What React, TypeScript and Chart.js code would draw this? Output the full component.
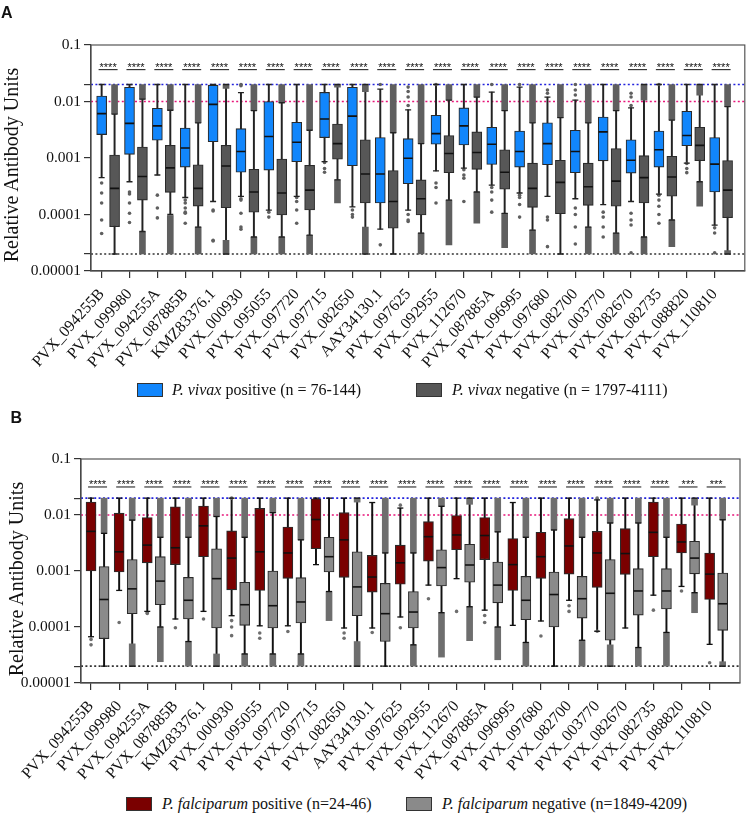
import React, { useEffect, useRef } from 'react';
import { Chart, registerables } from 'chart.js';

Chart.register(...registerables);

// ---------------- DATA ----------------
const categories = [
  'PVX_094255B', 'PVX_099980', 'PVX_094255A', 'PVX_087885B', 'KMZ83376.1', 'PVX_000930',
  'PVX_095055', 'PVX_097720', 'PVX_097715', 'PVX_082650', 'AAY34130.1', 'PVX_097625',
  'PVX_092955', 'PVX_112670', 'PVX_087885A', 'PVX_096995', 'PVX_097680', 'PVX_082700',
  'PVX_003770', 'PVX_082670', 'PVX_082735', 'PVX_088820', 'PVX_110810',
];

const yTickValues = [0.00001, 0.00002, 0.0001, 0.001, 0.01, 0.02, 0.1];
const yTickLabels = ['0.00001', '', '0.0001', '0.001', '0.01', '', '0.1'];
const referenceValues = [0.02, 0.01, 0.00002];
const yAxisTitle = 'Relative Antibody Units';

// [whisker low, q1, median, q3, whisker high]
const vivaxPositive = [
  [0.00045, 0.0026, 0.0061, 0.0125, 0.02],
  [0.00038, 0.00116, 0.0041, 0.0178, 0.02],
  [0.0005, 0.00206, 0.0037, 0.0076, 0.02],
  [0.0002, 0.00069, 0.0015, 0.0034, 0.02],
  [0.00017, 0.00194, 0.0089, 0.0195, 0.02],
  [0.00021, 0.00056, 0.0013, 0.0033, 0.0143],
  [0.00012, 0.00061, 0.0024, 0.01, 0.02],
  [0.00021, 0.00086, 0.0019, 0.0043, 0.02],
  [0.00086, 0.0023, 0.0049, 0.0145, 0.02],
  [0.000137, 0.00073, 0.0055, 0.0178, 0.02],
  [0.000055, 0.00016, 0.00052, 0.0023, 0.0165],
  [0.00012, 0.00035, 0.00099, 0.0022, 0.0071],
  [0.00059, 0.00175, 0.0027, 0.0057, 0.02],
  [0.00066, 0.0017, 0.0037, 0.0077, 0.02],
  [0.00033, 0.00077, 0.00175, 0.0035, 0.0147],
  [0.00024, 0.00069, 0.0013, 0.003, 0.018],
  [0.00021, 0.00076, 0.0018, 0.0042, 0.012],
  [0.00019, 0.00055, 0.0013, 0.0031, 0.0106],
  [0.00015, 0.00089, 0.0029, 0.0053, 0.02],
  [0.00017, 0.00054, 0.00091, 0.0021, 0.0077],
  [0.00023, 0.00069, 0.0014, 0.003, 0.02],
  [0.00081, 0.00165, 0.0025, 0.0067, 0.02],
  [0.000065, 0.00025, 0.00078, 0.0023, 0.02],
];

const vivaxNegative = [
  [0.00002, 0.000061, 0.00029, 0.00113, 0.006],
  [0.00005, 0.00018, 0.00047, 0.00156, 0.011],
  [0.0001, 0.000247, 0.00067, 0.00167, 0.007],
  [0.00006, 0.000141, 0.00029, 0.00076, 0.0042],
  [0.00002, 0.000132, 0.00072, 0.00167, 0.02],
  [0.00004, 0.00011, 0.00025, 0.00063, 0.0069],
  [0.00004, 0.000098, 0.00024, 0.00096, 0.0095],
  [0.000043, 0.00012, 0.00027, 0.00074, 0.0031],
  [0.00041, 0.00095, 0.0018, 0.004, 0.02],
  [0.00002, 0.00016, 0.00052, 0.0021, 0.02],
  [0.00002, 0.000057, 0.00017, 0.0006, 0.0028],
  [0.000047, 0.000098, 0.00019, 0.00041, 0.0018],
  [0.00018, 0.00055, 0.0012, 0.0025, 0.0106],
  [0.00025, 0.00063, 0.00125, 0.0029, 0.012],
  [0.000105, 0.00028, 0.00056, 0.0014, 0.0069],
  [0.000053, 0.000134, 0.00029, 0.00081, 0.0042],
  [0.00002, 0.000103, 0.00037, 0.00091, 0.0052],
  [0.00006, 0.000145, 0.00031, 0.00081, 0.0042],
  [0.000047, 0.00014, 0.00039, 0.00147, 0.0069],
  [0.00004, 0.00016, 0.00045, 0.0011, 0.02],
  [0.00008, 0.00021, 0.00046, 0.00107, 0.0047],
  [0.00038, 0.0009, 0.00167, 0.0035, 0.02],
  [0.00002, 0.000088, 0.00027, 0.0009, 0.0081],
];

// dense outlier ranges of the negative groups [low, high]
const vivaxNegHighCluster = [
  [0.006, 0.02], [0.011, 0.02], [0.007, 0.02], [0.0042, 0.02], [0.017, 0.02], [0.0069, 0.02],
  [0.0095, 0.02], [0.0031, 0.02], [0.018, 0.02], [0.015, 0.02], [0.0028, 0.02], [0.0018, 0.02],
  [0.0106, 0.02], [0.012, 0.02], [0.0069, 0.02], [0.0042, 0.02], [0.0052, 0.02], [0.0042, 0.02],
  [0.0069, 0.02], [0.0106, 0.02], [0.0047, 0.02], [0.013, 0.02], [0.0081, 0.02],
];
const vivaxNegLowCluster = [
  null, [0.00002, 0.00005], [0.00002, 0.000096], [0.00002, 0.00006], [0.00002, 0.000035],
  [0.00002, 0.00004], [0.00002, 0.00004], [0.00002, 0.000043], [0.00016, 0.00041],
  [0.00002, 0.00006], null, [0.00002, 0.000047], [0.000029, 0.00018], [0.00007, 0.00025],
  [0.000026, 0.000105], [0.00002, 0.000053], null, [0.00002, 0.00006], [0.00002, 0.000047],
  [0.00002, 0.00004], [0.000027, 0.00008], [0.00014, 0.00038], [0.00002, 0.000023],
];
const vivaxPosOutliers = [
  [0.00036, 0.00024, 0.00016, 0.00008, 0.000046],
  [0.00025, 0.00023, 0.00016, 0.000105, 0.000072],
  [0.00022, 0.00013, 0.000087],
  [0.00018, 0.00016, 0.00013, 0.00011, 0.000105, 0.00007],
  [0.00012, 0.000115, 0.000035, 0.000034],
  [0.02, 0.019, 0.00019, 0.00018, 0.000105, 0.00006, 0.000055],
  [0.00011, 0.00009],
  [0.0002, 0.00017, 0.00012, 0.00007],
  [0.00083, 0.00065, 0.00056],
  [0.00012, 0.0001, 0.00009],
  [0.02, 0.000029],
  [0.018, 0.015, 0.012, 0.0085, 0.0001, 0.00008, 0.000075],
  [0.02, 0.00036, 0.0003, 0.00016],
  [0.00062, 0.0005, 0.00044, 0.00017],
  [0.02, 0.0003, 0.00025, 0.00018, 0.00011],
  [0.02, 0.00022, 0.0002, 0.00015, 0.00009],
  [0.016, 0.014, 0.00009, 0.00008, 0.000027],
  [0.02, 0.016, 0.013, 0.00013, 0.0001, 0.00006, 0.00003],
  [0.00011, 0.00009, 0.00006, 0.00004],
  [0.014, 0.012, 0.0085, 0.000105, 0.00008, 0.000065, 0.000021],
  [0.02, 0.00022, 0.00018, 0.00014, 0.0001, 0.00007],
  [0.0008, 0.00065, 0.00055],
  [0.000058, 0.000047, 0.000021],
];
const vivaxSignificance = categories.map(() => '****');

const falciparumPositive = [
  [0.000067, 0.001, 0.0051, 0.017, 0.02],
  [0.00045, 0.00096, 0.0022, 0.0108, 0.02],
  [0.00019, 0.0014, 0.0029, 0.009, 0.02],
  [0.000139, 0.0013, 0.0026, 0.014, 0.02],
  [0.00019, 0.0018, 0.0064, 0.0145, 0.02],
  [0.000159, 0.00046, 0.0017, 0.0052, 0.02],
  [0.000105, 0.00045, 0.0022, 0.0131, 0.02],
  [0.000105, 0.00074, 0.0021, 0.0061, 0.02],
  [0.0013, 0.0025, 0.0083, 0.0195, 0.02],
  [0.000096, 0.00077, 0.0036, 0.011, 0.02],
  [0.000096, 0.00042, 0.00078, 0.0019, 0.0167],
  [0.000151, 0.00058, 0.0014, 0.0029, 0.0133],
  [0.00056, 0.0015, 0.0041, 0.0076, 0.02],
  [0.00073, 0.0024, 0.0044, 0.0098, 0.02],
  [0.0002, 0.0016, 0.0043, 0.009, 0.02],
  [0.000107, 0.00045, 0.0013, 0.0038, 0.0167],
  [0.000128, 0.00074, 0.0018, 0.0049, 0.02],
  [0.0003, 0.00088, 0.0028, 0.0086, 0.02],
  [0.000084, 0.00051, 0.0021, 0.0051, 0.0186],
  [0.000096, 0.00087, 0.00205, 0.0057, 0.02],
  [0.00037, 0.0018, 0.0049, 0.017, 0.02],
  [0.00053, 0.0021, 0.0033, 0.0069, 0.02],
  [0.000049, 0.00031, 0.00088, 0.0021, 0.02],
];

const falciparumNegative = [
  [0.00002, 0.000062, 0.00031, 0.0012, 0.0047],
  [0.00002, 0.000173, 0.00048, 0.0016, 0.0081],
  [0.0001, 0.00025, 0.00066, 0.0018, 0.004],
  [0.000055, 0.000139, 0.0003, 0.00077, 0.004],
  [0.00002, 0.000096, 0.00073, 0.0025, 0.0094],
  [0.000033, 0.000107, 0.00025, 0.00063, 0.004],
  [0.000033, 0.000096, 0.00024, 0.001, 0.011],
  [0.000033, 0.000118, 0.00028, 0.00076, 0.0036],
  [0.00043, 0.00096, 0.0018, 0.004, 0.02],
  [0.00002, 0.000159, 0.00052, 0.0022, 0.02],
  [0.00002, 0.000055, 0.000173, 0.0006, 0.0021],
  [0.000048, 0.000096, 0.000185, 0.00043, 0.0021],
  [0.00018, 0.00054, 0.00115, 0.0024, 0.0143],
  [0.00023, 0.00063, 0.00128, 0.003, 0.02],
  [0.0001, 0.00027, 0.00056, 0.00145, 0.005],
  [0.000053, 0.000135, 0.0003, 0.0008, 0.004],
  [0.00002, 0.0001, 0.00038, 0.00096, 0.0054],
  [0.000058, 0.000144, 0.00032, 0.0008, 0.004],
  [0.00002, 0.000058, 0.0004, 0.0016, 0.0072],
  [0.000043, 0.000163, 0.00044, 0.0011, 0.0072],
  [0.00008, 0.00021, 0.00044, 0.0011, 0.004],
  [0.00041, 0.00089, 0.0017, 0.0034, 0.02],
  [0.00002, 0.000087, 0.00026, 0.00092, 0.0082],
];

const falciparumNegHighCluster = [
  [0.0047, 0.02], [0.0081, 0.02], [0.004, 0.02], [0.004, 0.02], [0.0094, 0.02], [0.004, 0.02],
  [0.011, 0.02], [0.0036, 0.02], null, [0.017, 0.02], [0.0021, 0.02], [0.0021, 0.02],
  [0.0143, 0.02], [0.0155, 0.02], [0.005, 0.02], [0.004, 0.02], [0.0054, 0.02], [0.004, 0.02],
  [0.0072, 0.02], [0.0072, 0.02], [0.004, 0.02], [0.015, 0.02], [0.0082, 0.02],
];
const falciparumNegLowCluster = [
  null, [0.00002, 0.00005], [0.000024, 0.0001], [0.00002, 0.000055], [0.00002, 0.000033],
  [0.00002, 0.000033], [0.00002, 0.000033], [0.00002, 0.000033], [0.00013, 0.00043],
  [0.00002, 0.000055], null, [0.00002, 0.000048], [0.000029, 0.00018], [0.000057, 0.00023],
  [0.000026, 0.0001], [0.00002, 0.000053], null, [0.00002, 0.000058], [0.00002, 0.000048],
  [0.00002, 0.000043], [0.00002, 0.00008], [0.00018, 0.00041], [0.00002, 0.000024],
];
const falciparumPosOutliers = [
  [0.00006, 0.000048], [0.00012], [0.00018, 0.000175], [0.000097], [0.000139],
  [0.02, 0.00013, 0.0001, 0.00007], [0.000078, 0.000063], [0.000083], [], [0.000078, 0.000063],
  [0.00008], [0.015, 0.000097], [0.00032], [0.00019], [0.00016, 0.00012], [], [0.000069],
  [0.00024, 0.00019], [0.02, 0.000084], [], [0.0002], [0.00044], [0.000023],
];
const falciparumSignificance = categories.map((_, i) => (i >= 21 ? '***' : '****'));

const legendA = [
  { italic: 'P. vivax', rest: ' positive (n = 76-144)' },
  { italic: 'P. vivax', rest: ' negative (n = 1797-4111)' },
];
const legendB = [
  { italic: 'P. falciparum', rest: ' positive (n=24-46)' },
  { italic: 'P. falciparum', rest: ' negative (n=1849-4209)' },
];

// ---------------- STYLE / LAYOUT ----------------
const SERIF = '"Liberation Serif", "Times New Roman", serif';

const specA = {
  pos: vivaxPositive, neg: vivaxNegative, negHigh: vivaxNegHighCluster, negLow: vivaxNegLowCluster,
  posOut: vivaxPosOutliers, sig: vivaxSignificance,
  posColor: '#1186fc', negColor: '#575757', outlierColor: '#5f5f5f', whiskerColor: '#222',
  xMin: -0.382, xMax: 23.082, negShift: 0.464, yAxisWidth: 91, xAxisHeight: 109,
  padTop: 45, padRight: 1, sigLevel: 0.0347,
};
const specB = {
  pos: falciparumPositive, neg: falciparumNegative, negHigh: falciparumNegHighCluster, negLow: falciparumNegLowCluster,
  posOut: falciparumPosOutliers, sig: falciparumSignificance,
  posColor: '#7a0000', negColor: '#8a8a8a', outlierColor: '#6e6e6e', whiskerColor: '#111',
  xMin: -0.357, xMax: 23.08, negShift: 0.464, yAxisWidth: 81, xAxisHeight: 107,
  padTop: 59, padRight: 11, sigLevel: 0.030,
};
const refColors = ['#2222dd', '#e8157a', '#333333'];

const framePlugin = {
  id: 'frame',
  afterDraw(chart: any) {
    const { ctx, chartArea: a } = chart;
    ctx.save();
    ctx.strokeStyle = '#555';
    ctx.lineWidth = 1.2;
    ctx.strokeRect(a.left, a.top, a.right - a.left, a.bottom - a.top);
    ctx.restore();
  },
};

const sigPlugin = {
  id: 'sig',
  afterDatasetsDraw(chart: any, _args: any, opts: any) {
    const { ctx } = chart;
    const xs = chart.scales.x;
    const ys = chart.scales.y;
    const base = ys.getPixelForValue(opts.level);
    ctx.save();
    ctx.fillStyle = '#111';
    ctx.strokeStyle = '#111';
    ctx.lineWidth = 1;
    ctx.font = '11px "Liberation Sans", Arial, sans-serif';
    ctx.textAlign = 'center';
    ctx.textBaseline = 'alphabetic';
    (opts.labels as string[]).forEach((s, i) => {
      const cx = (xs.getPixelForValue(i) + xs.getPixelForValue(i + opts.shift)) / 2;
      ctx.fillText(s, cx, base);
      ctx.beginPath();
      ctx.moveTo(cx - 9.5, base - 1.3);
      ctx.lineTo(cx + 9.5, base - 1.3);
      ctx.stroke();
    });
    ctx.restore();
  },
};

function buildConfig(p: any) {
  const posX = (i: number) => i;
  const negX = (i: number) => i + p.negShift;
  const datasets: any[] = [];

  referenceValues.forEach((v, k) => {
    datasets.push({
      type: 'line',
      data: [{ x: p.xMin, y: v }, { x: p.xMax, y: v }],
      borderColor: refColors[k], borderWidth: 1.7, borderDash: [2, 2.4],
      pointRadius: 0, order: 30,
    });
  });

  const whisker = (arr: number[][], xf: (i: number) => number) => ({
    type: 'bar',
    data: arr.map((s, i) => ({ x: xf(i), y: [s[0], s[4]] })),
    backgroundColor: p.whiskerColor, barThickness: 1.3, grouped: false, borderWidth: 0, order: 25,
  });
  datasets.push(whisker(p.pos, posX), whisker(p.neg, negX));

  const clusters = (arr: (number[] | null)[]) =>
    arr.map((c, i) => (c ? { x: negX(i), y: c } : null)).filter(Boolean);
  datasets.push({
    type: 'bar',
    data: [...clusters(p.negHigh), ...clusters(p.negLow)],
    backgroundColor: p.outlierColor, barThickness: 6, grouped: false, borderWidth: 0, order: 24,
  });

  datasets.push({
    type: 'scatter',
    data: (p.posOut as number[][]).flatMap((vals, i) => vals.map((v) => ({ x: posX(i), y: v }))),
    pointRadius: 1.8, pointBackgroundColor: p.outlierColor, pointBorderWidth: 0, order: 23,
  });

  const box = (arr: number[][], xf: (i: number) => number, color: string) => ({
    type: 'bar',
    data: arr.map((s, i) => ({ x: xf(i), y: [s[1], s[3]] })),
    backgroundColor: color, borderColor: '#2a2a2a', borderWidth: 1.1, borderSkipped: false,
    barThickness: 10, grouped: false, order: 10,
  });
  datasets.push(box(p.pos, posX, p.posColor), box(p.neg, negX, p.negColor));

  const caps = (arr: number[][], xf: (i: number) => number) =>
    arr.flatMap((s, i) => [{ x: xf(i), y: s[0] }, { x: xf(i), y: s[4] }]);
  datasets.push({
    type: 'scatter',
    data: [...caps(p.pos, posX), ...caps(p.neg, negX)],
    pointStyle: 'line', pointRadius: 3, pointBorderColor: p.whiskerColor, pointBorderWidth: 1.3, order: 5,
  });

  const medians = (arr: number[][], xf: (i: number) => number) => arr.map((s, i) => ({ x: xf(i), y: s[2] }));
  datasets.push({
    type: 'scatter',
    data: [...medians(p.pos, posX), ...medians(p.neg, negX)],
    pointStyle: 'line', pointRadius: 4.6, pointBorderColor: '#111', pointBorderWidth: 1.6, order: 1,
  });

  const tickFont = { family: SERIF, size: 15.5 };

  return {
    type: 'bar',
    data: { datasets },
    plugins: [framePlugin, sigPlugin],
    options: {
      responsive: false,
      maintainAspectRatio: false,
      animation: false,
      events: [],
      layout: { padding: { top: p.padTop, right: p.padRight, left: 0, bottom: 0 } },
      plugins: {
        legend: { display: false },
        tooltip: { enabled: false },
        sig: { labels: p.sig, level: p.sigLevel, shift: p.negShift },
      },
      scales: {
        x: {
          type: 'linear', min: p.xMin, max: p.xMax, offset: false,
          afterBuildTicks: (s: any) => { s.ticks = categories.map((_, i) => ({ value: i })); },
          afterFit: (s: any) => { s.height = p.xAxisHeight; s.paddingLeft = 0; s.paddingRight = 0; },
          ticks: {
            autoSkip: false, minRotation: 48, maxRotation: 48, padding: 7, color: '#111',
            font: { family: SERIF, size: 16 },
            callback: (v: any) => categories[Math.round(v)] ?? '',
          },
          grid: { drawOnChartArea: false, drawTicks: true, tickLength: 7, offset: false, color: '#333', lineWidth: 1.2 },
          border: { color: '#333', width: 1.2 },
        },
        y: {
          type: 'logarithmic', min: 0.00001, max: 0.1,
          afterBuildTicks: (s: any) => { s.ticks = yTickValues.map((v) => ({ value: v })); },
          afterFit: (s: any) => { s.width = p.yAxisWidth; s.paddingTop = 0; s.paddingBottom = 0; },
          ticks: {
            autoSkip: false, padding: 3, color: '#111', font: tickFont,
            callback: (v: any) => {
              const k = yTickValues.findIndex((t) => Math.abs(t - v) / t < 1e-6);
              return k >= 0 ? yTickLabels[k] : '';
            },
          },
          grid: { drawOnChartArea: false, drawTicks: true, tickLength: 7, color: '#333', lineWidth: 1.2 },
          border: { color: '#333', width: 1.2 },
          title: { display: false },
        },
      },
    },
  };
}

function Panel({ spec, width, height }: { spec: any; width: number; height: number }) {
  const ref = useRef<HTMLCanvasElement | null>(null);
  useEffect(() => {
    if (!ref.current) return;
    const chart = new Chart(ref.current, buildConfig(spec) as any);
    return () => chart.destroy();
  }, [spec]);
  return <canvas ref={ref} width={width} height={height} style={{ display: 'block', width, height }} />;
}

function LegendItem({ left, top, textLeft, color, item }: any) {
  return (
    <>
      <div style={{ position: 'absolute', left, top: top + 1, width: 24, height: 12, background: color, border: '1px solid #333' }} />
      <div style={{ position: 'absolute', left: textLeft, top, font: `16px/16px ${SERIF}`, color: '#111', whiteSpace: 'nowrap' }}>
        <i>{item.italic}</i>{item.rest}
      </div>
    </>
  );
}

function YTitle({ cx, cy }: { cx: number; cy: number }) {
  return (
    <div
      style={{
        position: 'absolute', left: cx, top: cy, transform: 'translate(-50%, -50%) rotate(-90deg)',
        font: `20px/20px ${SERIF}`, color: '#111', whiteSpace: 'nowrap',
      }}
    >
      {yAxisTitle}
    </div>
  );
}

export default function App() {
  return (
    <div style={{ position: 'absolute', left: 0, top: 0, width: 751, height: 814, background: '#fff', overflow: 'hidden' }}>
      <div style={{ position: 'absolute', left: 0, top: 0 }}>
        <Panel spec={specA} width={751} height={380} />
      </div>
      <div style={{ position: 'absolute', left: 0, top: 400 }}>
        <Panel spec={specB} width={751} height={390} />
      </div>
      <YTitle cx={11} cy={165} />
      <YTitle cx={16} cy={579} />
      <div style={{ position: 'absolute', left: 1, top: 5, font: 'bold 16px/16px "Liberation Sans", Arial, sans-serif', color: '#111' }}>A</div>
      <div style={{ position: 'absolute', left: 10.5, top: 410, font: 'bold 16px/16px "Liberation Sans", Arial, sans-serif', color: '#111' }}>B</div>
      <LegendItem left={137} top={382} textLeft={172} color={specA.posColor} item={legendA[0]} />
      <LegendItem left={416} top={382} textLeft={452} color={specA.negColor} item={legendA[1]} />
      <LegendItem left={126} top={796} textLeft={162} color={specB.posColor} item={legendB[0]} />
      <LegendItem left={406} top={796} textLeft={442} color={specB.negColor} item={legendB[1]} />
    </div>
  );
}
